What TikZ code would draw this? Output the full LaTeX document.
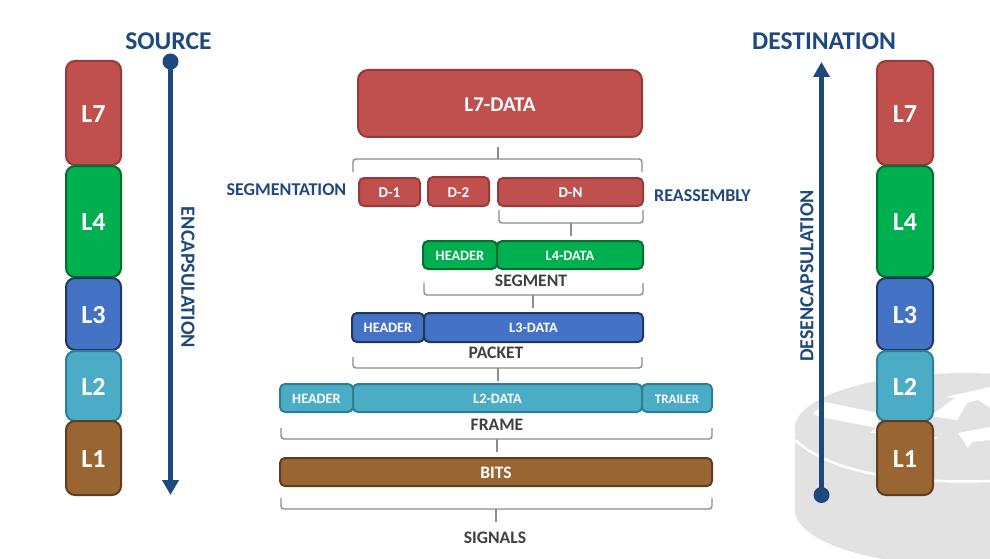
\documentclass[tikz,border=0pt]{standalone}
\usepackage{fontspec}
\setmainfont{Carlito}
\usetikzlibrary{arrows.meta}
\definecolor{cred}{HTML}{C0504D}\definecolor{bred}{HTML}{983A3A}
\definecolor{cgreen}{HTML}{00B050}\definecolor{bgreen}{HTML}{00702C}
\definecolor{cblue}{HTML}{4472C4}\definecolor{bblue}{HTML}{203864}
\definecolor{ccyan}{HTML}{4BACC6}\definecolor{bcyan}{HTML}{2F7F94}
\definecolor{cbrown}{HTML}{996633}\definecolor{bbrown}{HTML}{5E3D20}
\definecolor{navy}{HTML}{1F497D}\definecolor{lab}{HTML}{404040}
\definecolor{brk}{HTML}{8C8C8C}\definecolor{rt}{HTML}{E3E2E3}
\tikzset{
 blockbox/.style={rounded corners=5pt,line width=2pt,inner sep=0pt,text=white,font=\bfseries\fontsize{14.3}{14.3}\selectfont},
 redb/.style={blockbox,fill=cred,draw=bred},
 greenb/.style={blockbox,fill=cgreen,draw=bgreen},
 blueb/.style={blockbox,fill=cblue,draw=bblue},
 cyanb/.style={blockbox,fill=ccyan,draw=bcyan},
 brownb/.style={blockbox,fill=cbrown,draw=bbrown},
 layer/.style={rounded corners=9pt,font=\bfseries\fontsize{26}{26}\selectfont},
 navylab/.style={text=navy,inner sep=0pt,font=\bfseries\fontsize{18}{18}\selectfont},
 graylab/.style={text=lab,inner sep=0pt,font=\bfseries\fontsize{17.6}{17.6}\selectfont},
 bracket/.style={draw=brk,line width=1.4pt,rounded corners=3pt},
 flow/.style={draw=navy,line width=5pt},
}
\newcommand{\blk}[7][]{%
 \node[#2,#1,minimum width={(#6-#4)*1pt},minimum height={(#7-#5)*1pt}] (#3) at ({(#4+#6)/2},{(#5+#7)/2}) {\raisebox{-0.8pt}[\dimexpr\height+0.8pt\relax][\dimexpr\depth+0.8pt\relax]{\blktext}};}
\newcommand{\blktext}{}
\newcommand{\mk}[8][]{\renewcommand{\blktext}{#8}\blk[#1]{#2}{#3}{#4}{#5}{#6}{#7}}
\newcommand{\brk}[6]{%
 \draw[bracket] (#1,#3) -- (#1,#4) -- (#2,#4) -- (#2,#3);
 \draw[draw=brk,line width=1.4pt] (#5,#4) -- (#5,#6);}
\begin{document}
\begin{tikzpicture}[x=1pt,y=-1pt]
\useasboundingbox (0,0) rectangle (990,559);
\fill[white] (0,0) rectangle (990,559);
% router
\begin{scope}
\clip (0,0) rectangle (990,559);
\fill[rt] (965,510) ellipse[x radius=170,y radius=56];
\fill[rt] (795,428) rectangle (1135,510);
\fill[rt] (965,428) ellipse[x radius=170,y radius=55];
\draw[white,line width=2.5pt] (795,440) .. controls (830,472) and (900,484) .. (990,481);
\fill[white] (813,414) -- (825,402) -- (878,413) -- (878,428) -- (820,417) -- cycle;
\fill[white] (870,433) -- (880,423) -- (880,433) -- cycle;
\fill[white] (930,416) -- (955,398) -- (945,397) -- (990,387) -- (990,408) -- (978,400) -- (967,403) -- (957,420) -- cycle;
\fill[white] (958,433) -- (990,427) -- (990,440) -- (972,442) -- (968,448) -- cycle;
\fill[white] (930,437) -- (938,437) -- (930,443) -- cycle;
\end{scope}
% stacks
\mk[layer]{redb}{sL7}{66}{61}{121}{165}{L7}
\mk[layer]{greenb}{sL4}{66}{166}{121}{277}{L4}
\mk[layer]{blueb}{sL3}{66}{278}{121}{350}{L3}
\mk[layer]{cyanb}{sL2}{66}{351}{121}{421}{L2}
\mk[layer]{brownb}{sL1}{66}{421}{121}{495}{L1}
\mk[layer]{redb}{dL7}{877}{61}{933}{165}{L7}
\mk[layer]{greenb}{dL4}{877}{166}{933}{277}{L4}
\mk[layer]{blueb}{dL3}{877}{278}{933}{350}{L3}
\mk[layer]{cyanb}{dL2}{877}{351}{933}{421}{L2}
\mk[layer]{brownb}{dL1}{877}{421}{933}{495}{L1}
% flow arrows
\node[circle,fill=navy,minimum size=16pt,inner sep=0pt] (srcdot) at (170.5,61.5) {};
\coordinate (srcend) at (170.5,495);
\draw[flow,-{Triangle[length=15pt,width=16pt]}] (srcdot.center) -- (srcend);
\node[circle,fill=navy,minimum size=16pt,inner sep=0pt] (dstdot) at (821.5,495) {};
\coordinate (dstend) at (821.5,62);
\draw[flow,-{Triangle[length=15pt,width=16pt]}] (dstdot.center) -- (dstend);
\node[navylab,font=\bfseries\fontsize{25.6}{25.6}\selectfont] (source) at (168.5,41.5) {SOURCE};
\node[navylab,font=\bfseries\fontsize{25.6}{25.6}\selectfont] (dest) at (824,41.5) {DESTINATION};
\node[navylab,rotate=-90,font=\bfseries\fontsize{20.2}{20.2}\selectfont] (encap) at (188,277.5) {ENCAPSULATION};
\node[navylab,rotate=90,font=\bfseries\fontsize{20}{20}\selectfont] (decap) at (807,276) {DESENCAPSULATION};
% data blocks
\mk[rounded corners=10pt,font=\bfseries\fontsize{21}{21}\selectfont]{redb}{l7data}{358}{70}{642}{137}{L7-DATA}
\mk[font=\bfseries\fontsize{15}{15}\selectfont]{redb}{d1}{359}{178}{420}{206}{D-1}
\mk[font=\bfseries\fontsize{15}{15}\selectfont]{redb}{d2}{428}{177}{489}{206}{D-2}
\mk[font=\bfseries\fontsize{15}{15}\selectfont]{redb}{dn}{498}{178}{643}{206}{D-N}
\mk{greenb}{hl4}{423}{241}{497}{269}{HEADER}
\mk{greenb}{l4}{497}{241}{643}{269}{L4-DATA}
\mk{blueb}{hl3}{352}{313}{424}{342}{HEADER}
\mk{blueb}{l3}{424}{313}{643}{342}{L3-DATA}
\mk{cyanb}{hl2}{280}{384}{353}{412}{HEADER}
\mk{cyanb}{l2}{353}{384}{642}{412}{L2-DATA}
\mk[font=\bfseries\fontsize{13}{13}\selectfont]{cyanb}{tl2}{642}{384}{712}{412}{TRAILER}
\mk[font=\bfseries\fontsize{17.5}{17.5}\selectfont]{brownb}{bits}{280}{458}{712}{486}{BITS}
% labels
\node[navylab] (seg) at (286.5,189.5) {SEGMENTATION};
\node[navylab] (reas) at (702.5,195.5) {REASSEMBLY};
\node[graylab] (segment) at (531,280.5) {SEGMENT};
\node[graylab] (packet) at (496,352.5) {PACKET};
\node[graylab] (frame) at (497,424.5) {FRAME};
\node[graylab] (signals) at (495,537.5) {SIGNALS};
% brackets
\brk{353}{642}{172}{159}{498}{147}
\brk{499}{643}{210}{223}{571}{236}
\brk{424}{643}{283}{295}{533}{308}
\brk{353}{642}{357}{368}{498}{381}
\brk{281}{712}{428}{439}{497}{452}
\brk{281}{712}{498}{509}{496}{522}
\end{tikzpicture}
\end{document}
